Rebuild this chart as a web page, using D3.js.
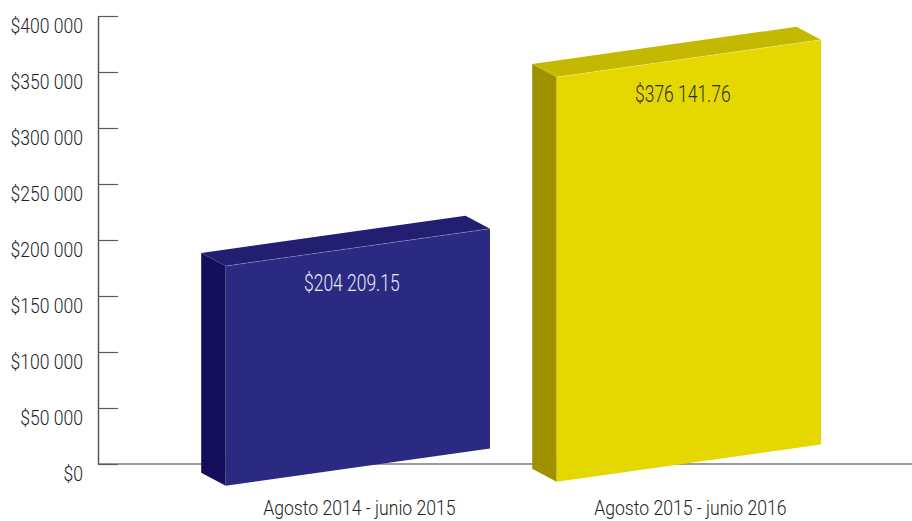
<!DOCTYPE html>
<html>
<head>
<meta charset="utf-8">
<script src="https://cdn.jsdelivr.net/npm/d3@7"></script>
<style>
  html, body { margin: 0; padding: 0; background: #fff; }
  svg { display: block; }
</style>
</head>
<body>
<svg id="chart" width="912" height="521"></svg>
<script>
// Periods and amounts
const categories = ["Agosto 2014 - junio 2015", "Agosto 2015 - junio 2016"];
const values = [204209.15, 376141.76];
const valueLabels = ["$204 209.15", "$376 141.76"];
const tickValues = [0, 50000, 100000, 150000, 200000, 250000, 300000, 350000, 400000];
const tickLabels = ["$0", "$50 000", "$100 000", "$150 000", "$200 000", "$250 000", "$300 000", "$350 000", "$400 000"];

// Face colours per bar: front, side, top
const frontColors = ["#2b2a82", "#e5d800"];
const sideColors = ["#150e5d", "#9d9100"];
const topColors = ["#221e72", "#c4b800"];
const valueTextColors = ["#ebebf5", "#2e2e1c"];

const svg = d3.select("#chart");

// Axis scale
const y = d3.scaleLinear().domain([0, 400000]).range([464, 16]);

// Bar height scale (the extruded bars are drawn in their own perspective)
const h = d3.scaleLinear().domain([0, 400000]).range([0, 430.3]);

// Bar front faces
const x = d3.scaleBand().domain(categories).range([225.7, 821]).paddingInner(0.2015).paddingOuter(0);

// 3D look
const depthX = -24.5, depthY = -13;   // offset of the back edges
const skew = 37.3;                     // right edge of the front face sits higher
const floorY0 = 485.7, floorTilt = 4 / 331;
const floorAt = xl => floorY0 - floorTilt * (xl - x.range()[0]);

const font = "Roboto, 'Liberation Sans', sans-serif";
const weight = 300;

// Baseline (behind bars)
svg.append("line")
  .attr("x1", 98).attr("x2", 912)
  .attr("y1", y(0)).attr("y2", y(0))
  .attr("stroke", "#3a3a3a").attr("stroke-width", 1.2);

// Y axis: ticks point into the plot, labels sit further left
const tickSx = 0.9;
const yAxis = d3.axisLeft(y)
  .tickValues(tickValues)
  .tickFormat((d, i) => tickLabels[i])
  .tickSizeInner(-20)
  .tickSizeOuter(0)
  .tickPadding(15);

const gAxis = svg.append("g").attr("transform", "translate(98,0)").call(yAxis);
gAxis.select(".domain").attr("stroke", "#5a5a5a").attr("stroke-width", 1.5);
gAxis.selectAll(".tick line").attr("stroke", "#5a5a5a").attr("stroke-width", 1.2);
gAxis.selectAll(".tick text")
  .attr("font-family", font)
  .attr("font-weight", weight)
  .attr("font-size", 19.5)
  .attr("fill", "#222")
  .attr("dy", 0)
  .attr("y", 16)
  .attr("x", -15 / tickSx)
  .attr("transform", `scale(${tickSx},1)`);

// Bars
const bars = svg.append("g").selectAll("g.bar")
  .data(values)
  .join("g")
  .attr("class", "bar");

const path = pts => "M" + pts.map(p => p.join(",")).join("L") + "Z";

bars.each(function (v, i) {
  const g = d3.select(this);
  const xl = x(categories[i]);
  const xr = xl + x.bandwidth();
  const yb = floorAt(xl);
  const hh = h(v);
  const front = [[xl, yb], [xr, yb - skew], [xr, yb - skew - hh], [xl, yb - hh]];
  const side = [[xl + depthX, yb + depthY], [xl, yb], [xl, yb - hh], [xl + depthX, yb - hh + depthY]];
  const top = [[xl, yb - hh], [xr, yb - skew - hh], [xr + depthX, yb - skew - hh + depthY], [xl + depthX, yb - hh + depthY]];

  g.append("path").attr("d", path(side)).attr("fill", sideColors[i]);
  g.append("path").attr("d", path(top)).attr("fill", topColors[i]);
  g.append("path").attr("d", path(front)).attr("fill", frontColors[i]);
  // light edge between top and front
  g.append("line")
    .attr("x1", xl).attr("y1", yb - hh)
    .attr("x2", xr).attr("y2", yb - skew - hh)
    .attr("stroke", "rgba(255,255,255,0.3)").attr("stroke-width", 0.7);

  // value label
  const vSx = 0.76;
  const cx = (xl + xr) / 2 - 6;
  const cy = yb - hh - skew / 2 + 43.5;
  g.append("text")
    .attr("transform", `translate(${cx},${cy}) scale(${vSx},1)`)
    .attr("text-anchor", "middle")
    .attr("font-family", font)
    .attr("font-weight", weight)
    .attr("font-size", 23)
    .attr("fill", valueTextColors[i])
    .text(valueLabels[i]);
});

// Category labels
const catSx = 0.88;
svg.append("g").selectAll("text")
  .data(categories)
  .join("text")
  .attr("transform", d => `translate(${x(d) + x.bandwidth() / 2 + 1.5},515) scale(${catSx},1)`)
  .attr("text-anchor", "middle")
  .attr("font-family", font)
  .attr("font-weight", weight)
  .attr("font-size", 20)
  .attr("fill", "#222")
  .text(d => d);
</script>
</body>
</html>
